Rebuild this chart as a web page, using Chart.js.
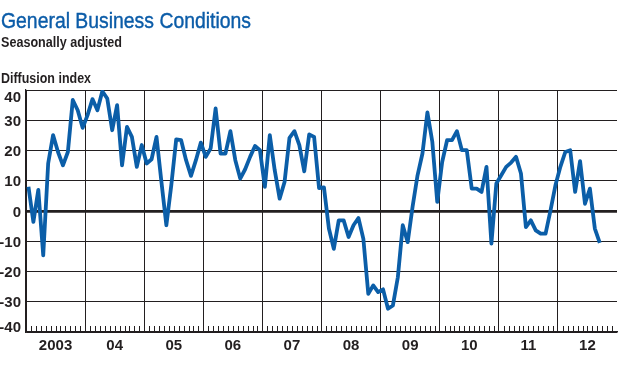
<!DOCTYPE html>
<html>
<head>
<meta charset="utf-8">
<script src="https://cdn.jsdelivr.net/npm/chart.js@4.4.0/dist/chart.umd.min.js"></script>
<style>
html,body{margin:0;padding:0;background:#fff;}
#wrap{position:relative;width:622px;height:374px;overflow:hidden;}
#c{position:absolute;left:0;top:0;}
.t{position:absolute;left:1px;white-space:nowrap;font-family:"Liberation Sans",Arial,sans-serif;transform-origin:0 0;line-height:1;}
#title{top:9.5px;font-size:22px;color:#0b5ca8;-webkit-text-stroke:0.4px #0b5ca8;}
#sub{top:34.5px;font-size:14.5px;font-weight:bold;color:#231f20;}
#unit{top:70.5px;font-size:14.5px;font-weight:bold;color:#231f20;}
</style>
</head>
<body>
<div id="wrap">
<canvas id="c" width="622" height="374"></canvas>
<div class="t" id="title" data-w="250">General Business Conditions</div>
<div class="t" id="sub" data-w="121">Seasonally adjusted</div>
<div class="t" id="unit" data-w="90">Diffusion index</div>
</div>
<script>
// Monthly values (diffusion index), January 2003 – September 2012
const v2003 = [8, -3.6, 7, -14.7, 15.7, 25.1, 19.5, 15.1, 19.5, 36.7, 33.3, 27.5];
const v2004 = [31.7, 37, 33.3, 39.6, 37.2, 26.7, 35, 15.1, 27.8, 24.5, 14.6, 21.8];
const v2005 = [15.7, 17.1, 24.5, 9.6, -4.7, 8.5, 23.7, 23.4, 16.8, 11.6, 16.8, 22.6];
const v2006 = [17.9, 20.7, 33.9, 19, 19, 26.4, 16.8, 10.7, 13.8, 17.9, 21.5, 20.1];
const v2007 = [8, 25.1, 13.5, 4.1, 9.6, 24.2, 26.4, 21.8, 13.1, 25.3, 24.5, 7.6];
const v2008 = [7.8, -5.8, -12.5, -3.1, -3.1, -8.6, -4.7, -2.3, -9.2, -27.4, -24.6, -26.8];
const v2009 = [-25.9, -32.3, -31.2, -21.9, -4.7, -10.3, 1.5, 11.8, 19, 32.6, 22.9, 3];
const v2010 = [16.2, 23.4, 23.4, 26.4, 20.1, 20.1, 7.4, 7.4, 6.3, 14.6, -10.8, 9.1];
const v2011 = [11.8, 14.6, 16, 17.9, 12.4, -5.3, -3.1, -6.4, -7.5, -7.5, 0.2, 8.5];
const v2012 = [14.6, 19.5, 20.1, 6.3, 16.5, 2.4, 7.4, -5.8, -10.5];

const yearLabels = ['2003', '04', '05', '06', '07', '08', '09', '10', '11', '12'];
const yTicks = [-40, -30, -20, -10, 0, 10, 20, 30, 40];

const allValues = [v2003, v2004, v2005, v2006, v2007, v2008, v2009, v2010, v2011, v2012].flat();
const points = allValues.map((v, i) => ({ x: i + 0.5, y: v }));

const INK = '#231f20';
const FONT = '"Liberation Sans", Arial, sans-serif';

// fit HTML titles to reference widths
document.querySelectorAll('.t').forEach(el => {
  const w = el.getBoundingClientRect().width;
  const target = +el.dataset.w;
  el.style.transform = 'scaleX(' + (target / w) + ')';
});

const extras = {
  id: 'extras',
  afterDraw(chart) {
    const ctx = chart.ctx;
    const xs = chart.scales.x, ys = chart.scales.y;
    const area = chart.chartArea;
    ctx.save();
    // month minor ticks
    ctx.strokeStyle = INK;
    ctx.lineWidth = 1;
    ctx.beginPath();
    for (let m = 1; m < yearLabels.length * 12; m++) {
      if (m % 12 === 0) continue;
      const x = Math.round(xs.getPixelForValue(m)) + 0.5;
      ctx.moveTo(x, area.bottom);
      ctx.lineTo(x, area.bottom - 6);
    }
    ctx.stroke();
    // y-axis labels
    ctx.fillStyle = INK;
    ctx.font = 'bold 15px ' + FONT;
    ctx.textAlign = 'right';
    ctx.textBaseline = 'alphabetic';
    yTicks.forEach(t => {
      const y = ys.getPixelForValue(t);
      let base = y + 5.5;
      if (t === yTicks[yTicks.length - 1]) base = y + 11.5;
      if (t === yTicks[0]) base = y;
      ctx.fillText(String(t), 21, base);
    });
    ctx.restore();
  }
};

new Chart(document.getElementById('c'), {
  type: 'line',
  data: {
    datasets: [{
      data: points,
      borderColor: '#0b5ea8',
      borderWidth: 3.8,
      pointRadius: 0,
      tension: 0,
      fill: false,
      borderJoinStyle: 'round',
      borderCapStyle: 'butt'
    }]
  },
  options: {
    responsive: false,
    animation: false,
    events: [],
    layout: { padding: { left: 0, right: 5, top: 90, bottom: 0 } },
    plugins: { legend: { display: false }, tooltip: { enabled: false }, title: { display: false } },
    scales: {
      x: {
        type: 'linear',
        min: 0,
        max: yearLabels.length * 12,
        afterFit(s) { s.height = 42; },
        afterBuildTicks(s) {
          const t = [];
          for (let v = 0; v <= yearLabels.length * 12; v += 6) t.push({ value: v });
          s.ticks = t;
        },
        ticks: {
          autoSkip: false,
          maxRotation: 0,
          padding: 5,
          color: INK,
          font: { family: FONT, size: 15, weight: 'bold' },
          callback(v) { return (v % 12 === 6) ? yearLabels[(v - 6) / 12] : ''; }
        },
        grid: {
          drawTicks: false,
          color(c) { const v = c.tick.value; return (v % 12 === 0 && v < yearLabels.length * 12) ? INK : 'rgba(0,0,0,0)'; },
          lineWidth: 1
        },
        border: { display: true, color: INK, width: 1.5 }
      },
      y: {
        min: yTicks[0],
        max: yTicks[yTicks.length - 1],
        afterFit(s) { s.width = 26; },
        ticks: { display: false, stepSize: 10 },
        grid: {
          drawTicks: false,
          color: INK,
          lineWidth(c) { return c.tick.value === 0 ? 2.8 : 1; }
        },
        border: { display: true, color: INK, width: 1.2 }
      }
    }
  },
  plugins: [extras]
});
</script>
</body>
</html>
